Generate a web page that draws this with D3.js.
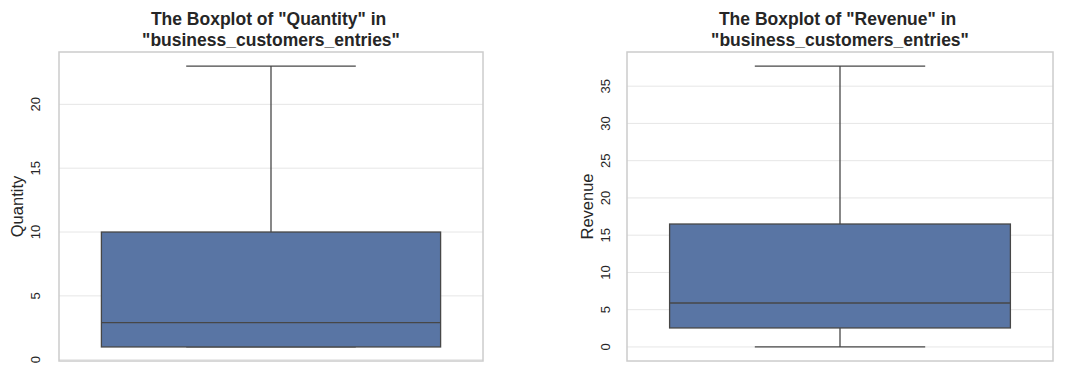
<!DOCTYPE html>
<html>
<head>
<meta charset="utf-8">
<script src="https://cdn.jsdelivr.net/npm/d3@7"></script>
<style>
  body { margin: 0; background: #fff; }
  text { font-family: "Liberation Sans", Arial, sans-serif; }
</style>
</head>
<body>
<div id="chart"></div>
<script>
// boxplot summaries
var columns = ["Quantity", "Revenue"];
var whiskerLow = [1, 0];
var q1 = [1, 2.55];
var median = [2.9, 5.9];
var q3 = [10, 16.5];
var whiskerHigh = [23, 37.7];
var yTicks = [[0, 5, 10, 15, 20], [0, 5, 10, 15, 20, 25, 30, 35]];
var tableName = "business_customers_entries";

var W = 1078, H = 373;
var svg = d3.select("#chart").append("svg")
    .attr("width", W).attr("height", H);

// axes boxes for the two panels
var panels = [
  {left: 59, right: 483, top: 52, bottom: 361, labelX: 17, tickX: 35},
  {left: 627, right: 1053, top: 52, bottom: 361, labelX: 587, tickX: 605}
];

columns.forEach(function(col, i) {
  var p = panels[i];
  var g = svg.append("g");

  // matplotlib style 5% margins
  var span = whiskerHigh[i] - whiskerLow[i];
  var y = d3.scaleLinear()
      .domain([whiskerLow[i] - span * 0.05, whiskerHigh[i] + span * 0.05])
      .range([p.bottom, p.top]);
  var x = d3.scaleLinear().domain([-0.5, 0.5]).range([p.left, p.right]);

  // grid
  g.selectAll(".grid").data(yTicks[i]).enter().append("line")
      .attr("x1", p.left).attr("x2", p.right)
      .attr("y1", function(d) { return y(d); })
      .attr("y2", function(d) { return y(d); })
      .attr("stroke", "#e6e6e6").attr("stroke-width", 1);

  // tick labels rotated
  g.selectAll(".tick").data(yTicks[i]).enter().append("text")
      .attr("transform", function(d) { return "translate(" + (p.tickX + 4.5) + "," + y(d) + ") rotate(-90)"; })
      .attr("text-anchor", "middle")
      .attr("font-size", 13)
      .attr("fill", "#262626")
      .text(function(d) { return d; });

  var cx = x(0);
  var lineCol = "#474747";

  // whiskers
  g.append("line").attr("x1", cx).attr("x2", cx)
      .attr("y1", y(q3[i])).attr("y2", y(whiskerHigh[i]))
      .attr("stroke", lineCol).attr("stroke-width", 1.3);
  g.append("line").attr("x1", cx).attr("x2", cx)
      .attr("y1", y(q1[i])).attr("y2", y(whiskerLow[i]))
      .attr("stroke", lineCol).attr("stroke-width", 1.3);
  [whiskerHigh[i], whiskerLow[i]].forEach(function(v) {
    g.append("line").attr("x1", x(-0.2)).attr("x2", x(0.2))
        .attr("y1", y(v)).attr("y2", y(v))
        .attr("stroke", lineCol).attr("stroke-width", 1.3);
  });

  // box
  g.append("rect")
      .attr("x", x(-0.4)).attr("width", x(0.4) - x(-0.4))
      .attr("y", y(q3[i])).attr("height", y(q1[i]) - y(q3[i]))
      .attr("fill", "#5975a4").attr("stroke", lineCol).attr("stroke-width", 1.3);
  g.append("line").attr("x1", x(-0.4)).attr("x2", x(0.4))
      .attr("y1", y(median[i])).attr("y2", y(median[i]))
      .attr("stroke", lineCol).attr("stroke-width", 1.3);

  // frame
  g.append("rect")
      .attr("x", p.left).attr("y", p.top)
      .attr("width", p.right - p.left).attr("height", p.bottom - p.top)
      .attr("fill", "none").attr("stroke", "#cccccc").attr("stroke-width", 1.5);

  // y label
  g.append("text")
      .attr("transform", "translate(" + (p.labelX + 6) + "," + ((p.top + p.bottom) / 2) + ") rotate(-90)")
      .attr("text-anchor", "middle")
      .attr("font-size", 16.5)
      .attr("fill", "#262626")
      .text(col);

  // title
  var t = g.append("text")
      .attr("x", (p.left + p.right) / 2)
      .attr("text-anchor", "middle")
      .attr("font-size", 17.5)
      .attr("font-weight", "bold")
      .attr("fill", "#262626");
  t.append("tspan").attr("x", (p.left + p.right) / 2).attr("y", 25)
      .text('The Boxplot of "' + col + '" in ');
  t.append("tspan").attr("x", (p.left + p.right) / 2).attr("y", 45.5)
      .text('"' + tableName + '"');
});
</script>
</body>
</html>
